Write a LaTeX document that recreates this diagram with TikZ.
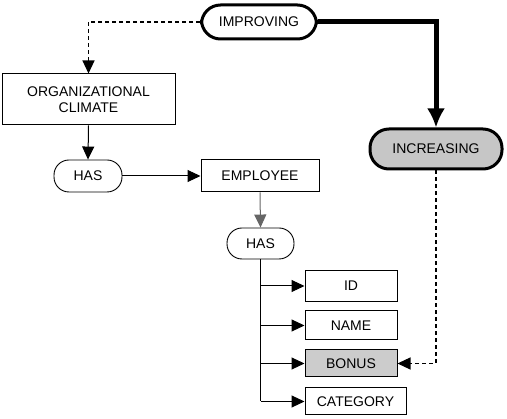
\documentclass[tikz,border=0pt]{standalone}
\usepackage{fontspec}
\setmainfont{Liberation Sans}
\usetikzlibrary{arrows.meta,positioning}
\begin{document}
\begin{tikzpicture}[x=1pt,y=-1pt,
  every node/.style={font=\fontsize{14}{15.5}\selectfont, inner sep=0pt, align=center},
  rect/.style={draw, line width=1pt, rectangle},
  pill/.style={draw, line width=0.9pt, rounded corners=15pt},
  bigpill/.style={draw, line width=3pt, rounded corners=19pt},
  tip/.style={-{Triangle[length=13pt,width=12pt]}},
  arr/.style={line width=1pt, tip},
  dsh/.style={line width=1.1pt, dash pattern=on 4pt off 3pt}]
\useasboundingbox (0,0) rectangle (507,419);
\node[bigpill, minimum width=115pt, minimum height=34pt] (imp) at (259,22) {IMPROVING};
\node[rect, minimum width=173pt, minimum height=51pt] (org) at (88.5,99.5) {ORGANIZATIONAL\\CLIMATE};
\node[bigpill, fill=gray!45, minimum width=132pt, minimum height=40pt] (inc) at (436,149) {INCREASING};
\node[pill, minimum width=68pt, minimum height=32pt] (has1) at (88,176) {HAS};
\node[rect, minimum width=118pt, minimum height=32pt] (emp) at (260,176) {EMPLOYEE};
\node[pill, minimum width=67pt, minimum height=31pt] (has2) at (260.5,243.5) {HAS};
\node[rect, minimum width=92pt, minimum height=31pt] (id) at (351,286) {ID};
\node[rect, minimum width=92pt, minimum height=29pt] (name) at (351,325.5) {NAME};
\node[rect, fill=gray!40, minimum width=92pt, minimum height=27pt] (bonus) at (351,363.5) {BONUS};
\node[rect, minimum width=101pt, minimum height=27pt] (cat) at (355.5,401.5) {CATEGORY};
% connectors
\draw[dsh, tip] (imp.west) -| (org.north);
\draw[line width=5pt, -{Latex[length=19pt,width=18pt]}] (imp.east) -| (inc.north);
\draw[dsh, tip] (inc.south) |- (bonus.east);
\draw[arr] (org.south) -- (has1.north);
\draw[arr] (has1.east) -- (emp.west);
\draw[arr, draw=gray!80!black] (emp.south) -- (has2.north);
\coordinate (j) at (has2.south |- cat.west);
\draw[line width=1pt] (has2.south) -- (j);
\draw[arr] (has2.south |- id.west) -- (id.west);
\draw[arr] (has2.south |- name.west) -- (name.west);
\draw[arr] (has2.south |- bonus.west) -- (bonus.west);
\draw[arr] (j) -- (cat.west);
\end{tikzpicture}
\end{document}
